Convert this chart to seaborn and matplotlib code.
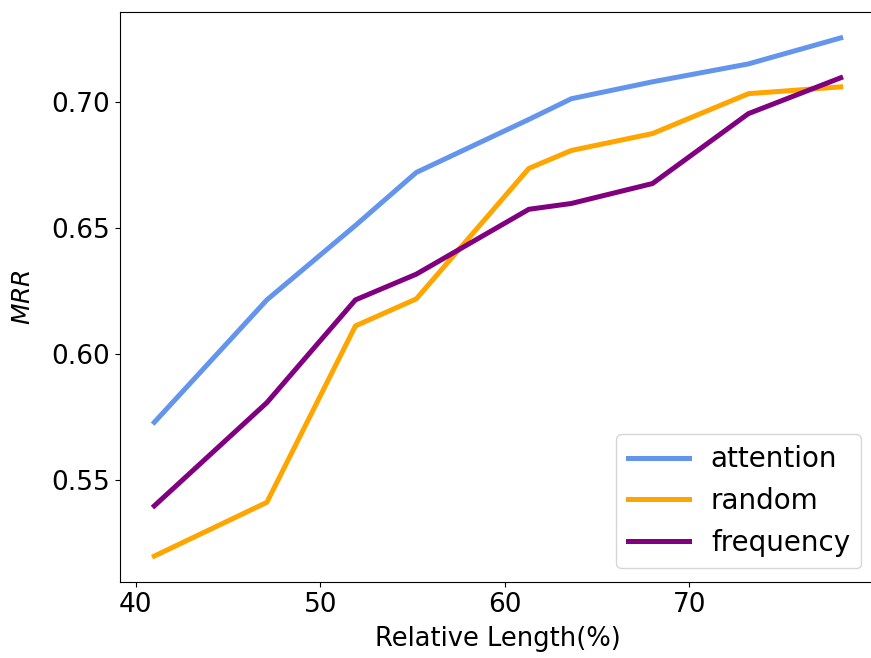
import pandas as pd
import matplotlib
matplotlib.use("Agg")
import matplotlib.pyplot as plt
import seaborn as sns

# values
rel_length = [41.0, 47.1, 51.9, 55.2, 61.3, 63.6, 68.0, 73.2, 78.2]
attention = [0.573, 0.6215, 0.651, 0.672, 0.693, 0.7012, 0.7079, 0.715, 0.7253]
random_ = [0.520, 0.5413, 0.6112, 0.6219, 0.6736, 0.6807, 0.6874, 0.7032, 0.7059]
frequency = [0.5399, 0.5808, 0.6215, 0.6317, 0.6574, 0.6597, 0.6676, 0.6953, 0.7095]

methods = ["attention", "random", "frequency"]
colors = ["cornflowerblue", "orange", "purple"]

df = pd.concat([
    pd.DataFrame({"length": rel_length, "MRR": vals, "method": name})
    for name, vals in zip(methods, [attention, random_, frequency])
])

fig = plt.figure(figsize=(8.71, 6.58), dpi=100)
ax = fig.add_axes([120 / 871, 76 / 658, 755 / 871, 570 / 658])

sns.lineplot(data=df, x="length", y="MRR", hue="method", hue_order=methods,
             palette=colors, linewidth=3.6, ax=ax)

ax.set_xlabel("Relative Length(%)", fontsize=18.5, labelpad=6)
ax.set_ylabel("$MRR$", fontsize=18, labelpad=12)
ax.set_xticks([40, 50, 60, 70])
ax.set_yticks([0.55, 0.60, 0.65, 0.70])
ax.yaxis.set_major_formatter(matplotlib.ticker.FormatStrFormatter("%.2f"))
ax.tick_params(labelsize=19)

leg = ax.legend(loc="lower right", fontsize=20, handlelength=2.2)
for line in leg.get_lines():
    line.set_linewidth(3.6)

fig.savefig("out.png", dpi=100)
